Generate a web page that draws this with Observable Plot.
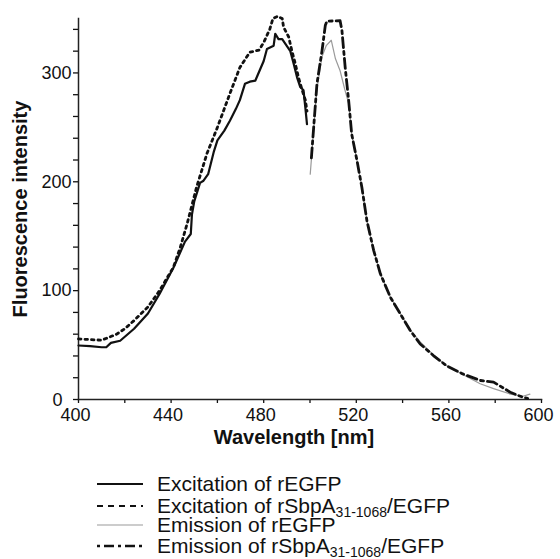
<!DOCTYPE html>
<html>
<head>
<meta charset="utf-8">
<script src="https://cdn.jsdelivr.net/npm/d3@7"></script>
<script src="https://cdn.jsdelivr.net/npm/@observablehq/plot@0.6"></script>
<style>
  body { margin: 0; background: white; }
  #wrap { position: relative; width: 560px; height: 559px; font-family: "Liberation Sans", Arial, sans-serif; }
  .row { position: absolute; left: 97px; height: 20px; display: flex; align-items: center; font-size: 21px; color: #111; white-space: nowrap; }
  .row svg { margin-right: 14px; }
  sub { font-size: 14px; vertical-align: -4px; line-height: 0; }
</style>
</head>
<body>
<div id="wrap"></div>
<script>
// Excitation of rEGFP (solid)
const exRWl  = [400,405,410,412,414,418,424,430,435,441,446,448.5,449,450,452.5,454,456,458.5,460,463,465.4,468,469.7,471.9,474,476.4,480,481.4,484.3,485,486.4,488,489.3,491.5,493,494.4,495.8,497.2,498,498.7];
const exRVal = [49.6,49,48,48,52,54,65,79,97,121,145,152,170,182,199,201,207,228,238,247,256,267,275,290,292,293,311,322,325,336,331,331,327,320,308,296,287,284,268,253];
// Excitation of rSbpA31-1068/EGFP (dotted)
const exSWl  = [400,405,410,413,416.5,420,424,430,435,441,444,447,451,455.5,460,465.4,469.7,474,478,480,482.6,484,486,488,488.6,490.8,492.2,493.7,495,496.5,498,498.7];
const exSVal = [55.7,55,54.5,57,60,65,72.5,85,100,121.5,140,162,195,226,250,281,305,319,321,328,340,350,352,350,342,333,320,308,296,285,275,265];
// Emission of rEGFP (thin grey)
const emRWl  = [500.1,503,505.2,507,509.2,511,513,515,516.7,518,520.3,522.4,524.6,527.5,530.4,534.7,539,543.3,547.6,553.3,559,566,573.5,579.3,586.5,592,595];
const emRVal = [207,285,315,325,330,313,302,285,272,244,219.5,195,164,137,115.5,94,79,64,53,41,31,23,14.5,10,5,3,5];
// Emission of rSbpA31-1068/EGFP (dash-dot)
const emSWl  = [500.6,503,505.2,506.6,507.3,513,513.8,515.2,516.7,518,520.3,522.4,524.6,527.5,530.4,534.7,539,543.3,547.6,553.3,559,566,573.5,579.3,586.5,592,594];
const emSVal = [222,290,320.5,343.5,347.5,348,339,305,274.6,244,219.5,195,164,137,115.5,94,78.7,63.4,51,40.4,31,23.5,17.5,16,6.7,2,1];

const xTicks  = [400,420,440,460,480,500,520,540,560,580,600];
const xLabels = [400,440,480,520,560,600];
const yTicks  = [0,20,40,60,80,100,120,140,160,180,200,220,240,260,280,300,320,340];
const yLabels = [100,200,300];

const seriesNames = ["Excitation of rEGFP","Excitation of rSbpA31-1068/EGFP","Emission of rEGFP","Emission of rSbpA31-1068/EGFP"];

const zip = (wl, v) => wl.map((w, i) => ({wl: w, v: v[i]}));
const exR = zip(exRWl, exRVal), exS = zip(exSWl, exSVal), emR = zip(emRWl, emRVal), emS = zip(emSWl, emSVal);

const chart = Plot.plot({
  width: 560, height: 450,
  marginLeft: 78, marginRight: 19, marginTop: 18, marginBottom: 51,
  x: {domain: [400, 600]},
  y: {domain: [0, 350]},
  style: {fontFamily: "'Liberation Sans', Arial, sans-serif", fontSize: "18px", color: "#111", background: "white", overflow: "visible"},
  marks: [
    Plot.axisX({ticks: xTicks, tickSize: 4, tickFormat: () => "", label: null, strokeWidth: 1.3}),
    Plot.axisX({ticks: xLabels, tickSize: 0, tickPadding: 9, dx: -3, label: null, fontSize: 18}),
    Plot.axisY({ticks: yTicks, tickSize: 5, tickFormat: () => "", label: null, strokeWidth: 1.3}),
    Plot.axisY({ticks: yLabels, tickSize: 0, tickPadding: 7, label: null, fontSize: 18}),
    Plot.axisY({ticks: [0], tickSize: 0, tickPadding: 16, dy: 1, label: null, fontSize: 18}),
    Plot.frame({anchor: "left", stroke: "#222", strokeWidth: 1.5}),
    Plot.frame({anchor: "bottom", stroke: "#222", strokeWidth: 1.5}),
    Plot.line(emR, {x: "wl", y: "v", stroke: "#9a9a9a", strokeWidth: 1.2}),
    Plot.line(exR, {x: "wl", y: "v", stroke: "#111", strokeWidth: 2.2}),
    Plot.line(exS, {x: "wl", y: "v", stroke: "#111", strokeWidth: 2.8, strokeDasharray: "2.5,4"}),
    Plot.line(emS, {x: "wl", y: "v", stroke: "#111", strokeWidth: 2.8, strokeDasharray: "10,4,3,4"}),
    Plot.text(["Wavelength [nm]"], {text: d => d, frameAnchor: "bottom", lineAnchor: "middle", textAnchor: "middle", dy: 38, dx: -16, fontWeight: "bold", fontSize: 20, fill: "#111"}),
    Plot.text(["Fluorescence intensity"], {text: d => d, frameAnchor: "left", textAnchor: "middle", lineAnchor: "middle", rotate: -90, dx: -58, fontWeight: "bold", fontSize: 20, fill: "#111"})
  ]
});

const wrap = document.getElementById("wrap");
wrap.appendChild(chart);

const legendStyles = [
  {stroke: "#111", width: 2.2, dash: null},
  {stroke: "#111", width: 2.2, dash: "6,5"},
  {stroke: "#9a9a9a", width: 1.2, dash: null},
  {stroke: "#111", width: 2.6, dash: "3,4,10,4"}
];
const rowTops = [474, 496, 515, 536];
seriesNames.forEach((name, i) => {
  const row = document.createElement("div");
  row.className = "row";
  row.style.top = rowTops[i] + "px";
  const s = legendStyles[i];
  row.innerHTML = `<svg width="46" height="10"><line x1="0" y1="5" x2="46" y2="5" stroke="${s.stroke}" stroke-width="${s.width}" ${s.dash ? `stroke-dasharray="${s.dash}"` : ""}/></svg>`;
  const span = document.createElement("span");
  span.innerHTML = name.replace("31-1068", "<sub>31-1068</sub>");
  row.appendChild(span);
  wrap.appendChild(row);
});
</script>
</body>
</html>
